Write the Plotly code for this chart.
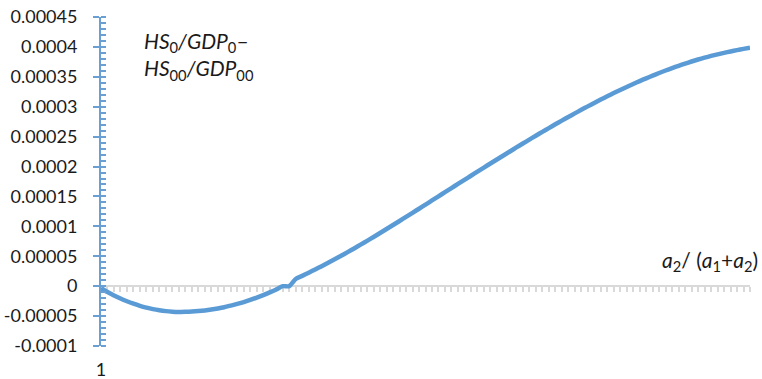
import plotly.graph_objects as go

# Category positions along the horizontal axis (1..101)
categories = list(range(1, 102))

# HS0/GDP0 - HS00/GDP00 for each category (in units of 1e-6)
values_e6 = [
    -3.5, -9.7, -15.4, -20.6, -25.2, -29.3, -32.9, -35.9, -38.4, -40.3,
    -41.7, -42.6, -43.0, -42.9, -42.4, -41.6, -40.5, -39.0, -37.2, -35.1,
    -32.5, -29.7, -26.5, -23.0, -19.1, -15.0, -10.4, -5.5, 0.0, 0.0,
    12.0, 17.2, 22.5, 27.9, 33.4, 39.1, 44.9, 50.8, 56.9, 63.1,
    69.4, 75.8, 82.3, 88.9, 95.6, 102.3, 109.0, 115.8, 122.7, 129.5,
    136.4, 143.3, 150.2, 157.1, 164.0, 170.9, 177.8, 184.6, 191.5, 198.3,
    205.1, 211.8, 218.5, 225.2, 231.9, 238.5, 245.0, 251.5, 258.0, 264.3,
    270.6, 276.8, 282.9, 288.9, 294.8, 300.6, 306.3, 311.9, 317.4, 322.8,
    328.0, 333.1, 338.1, 342.9, 347.5, 352.0, 356.4, 360.6, 364.6, 368.4,
    372.1, 375.6, 378.9, 382.0, 384.9, 387.6, 390.1, 392.45, 394.65, 396.7,
    398.6,
]
values = [v * 1e-6 for v in values_e6]

# Vertical axis ticks and their labels
y_tickvals = [0.00045, 0.0004, 0.00035, 0.0003, 0.00025, 0.0002, 0.00015, 0.0001,
              0.00005, 0.0, -0.00005, -0.0001]
y_ticktext = ["0.00045", "0.0004", "0.00035", "0.0003", "0.00025", "0.0002", "0.00015",
              "0.0001", "0.00005", "0", "-0.00005", "-0.0001"]

# Only the first category carries a label
x_tickvals = [1]
x_ticktext = ["1"]

y_min, y_max = -0.0001, 0.00045
x_min, x_max = categories[0], categories[-1]

LINE_BLUE = "#5b9bd5"
AXIS_BLUE = "#6a9fd4"
GRID_GREY = "#d9d9d9"
TEXT = "#1a1a1a"
FONT = "Lato"

fig = go.Figure()
# invisible carrier keeps the bottom (label) axis alive
fig.add_trace(go.Scatter(
    x=[x_min, x_max], y=[0, 0], mode="lines",
    line=dict(width=0), opacity=0, showlegend=False, hoverinfo="skip",
))
# the curve lives on the zero-line category axis so it is drawn above that axis line
fig.add_trace(go.Scatter(
    x=categories, y=values, xaxis="x2", yaxis="y", mode="lines",
    line=dict(color=LINE_BLUE, width=4.5, shape="spline", smoothing=0.6),
    showlegend=False, hoverinfo="skip",
))

zero_pos = (0 - y_min) / (y_max - y_min)

fig.update_layout(
    width=762, height=379,
    margin=dict(l=101, r=12, t=17, b=33),
    paper_bgcolor="white", plot_bgcolor="white",
    font=dict(family=FONT, size=18, color=TEXT),
    xaxis=dict(
        range=[x_min, x_max], showgrid=False, zeroline=False, showline=False,
        automargin=False,
        tickmode="array", tickvals=x_tickvals, ticktext=x_ticktext,
        ticks="", ticklabelstandoff=11,
        tickfont=dict(family=FONT, size=18, color=TEXT),
    ),
    # horizontal axis line drawn through y = 0 with downward category ticks
    xaxis2=dict(
        overlaying="x", anchor="free", position=zero_pos, layer="below traces",
        range=[x_min, x_max], showgrid=False, zeroline=False, automargin=False,
        showline=True, linecolor=GRID_GREY, linewidth=2,
        ticks="outside", ticklen=5, tickwidth=1.5, tickcolor=GRID_GREY,
        tickmode="linear", tick0=1, dtick=1, showticklabels=False,
    ),
    yaxis=dict(
        range=[y_min, y_max], showgrid=False, zeroline=False, automargin=False,
        showline=True, linecolor=AXIS_BLUE, linewidth=2,
        tickmode="array", tickvals=y_tickvals, ticktext=y_ticktext,
        ticks="outside", ticklen=6, tickwidth=2, tickcolor=AXIS_BLUE,
        ticklabelstandoff=12,
        minor=dict(ticks="inside", ticklen=5, tickwidth=1.5, tickcolor=AXIS_BLUE,
                   tickmode="linear", tick0=0, dtick=0.00001),
        tickfont=dict(family=FONT, size=18, color=TEXT),
    ),
    # inner half of the major ticks so they cross the axis line
    yaxis2=dict(
        overlaying="y", anchor="x", side="left", automargin=False,
        range=[y_min, y_max], showgrid=False, zeroline=False, showline=False,
        tickmode="array", tickvals=y_tickvals,
        ticks="inside", ticklen=6, tickwidth=2, tickcolor=AXIS_BLUE,
        showticklabels=False,
    ),
    annotations=[
        dict(
            text="<i>HS</i><sub>0</sub><i>/GDP</i><sub>0</sub>–<br><i>HS</i><sub>00</sub><i>/GDP</i><sub>00</sub>",
            xref="paper", yref="paper", x=(142 - 101) / 649, y=1 - (26 - 17) / 329,
            xanchor="left", yanchor="top", align="left", showarrow=False,
            font=dict(family=FONT, size=21, color=TEXT),
        ),
        dict(
            text="<i>a</i><sub>2</sub>/ (<i>a</i><sub>1</sub>+<i>a</i><sub>2</sub>)",
            xref="paper", yref="paper", x=(760 - 101) / 649, y=1 - (245 - 17) / 329,
            xanchor="right", yanchor="top", align="right", showarrow=False,
            font=dict(family=FONT, size=21, color=TEXT),
        ),
    ],
)

fig.write_html("out.html")
